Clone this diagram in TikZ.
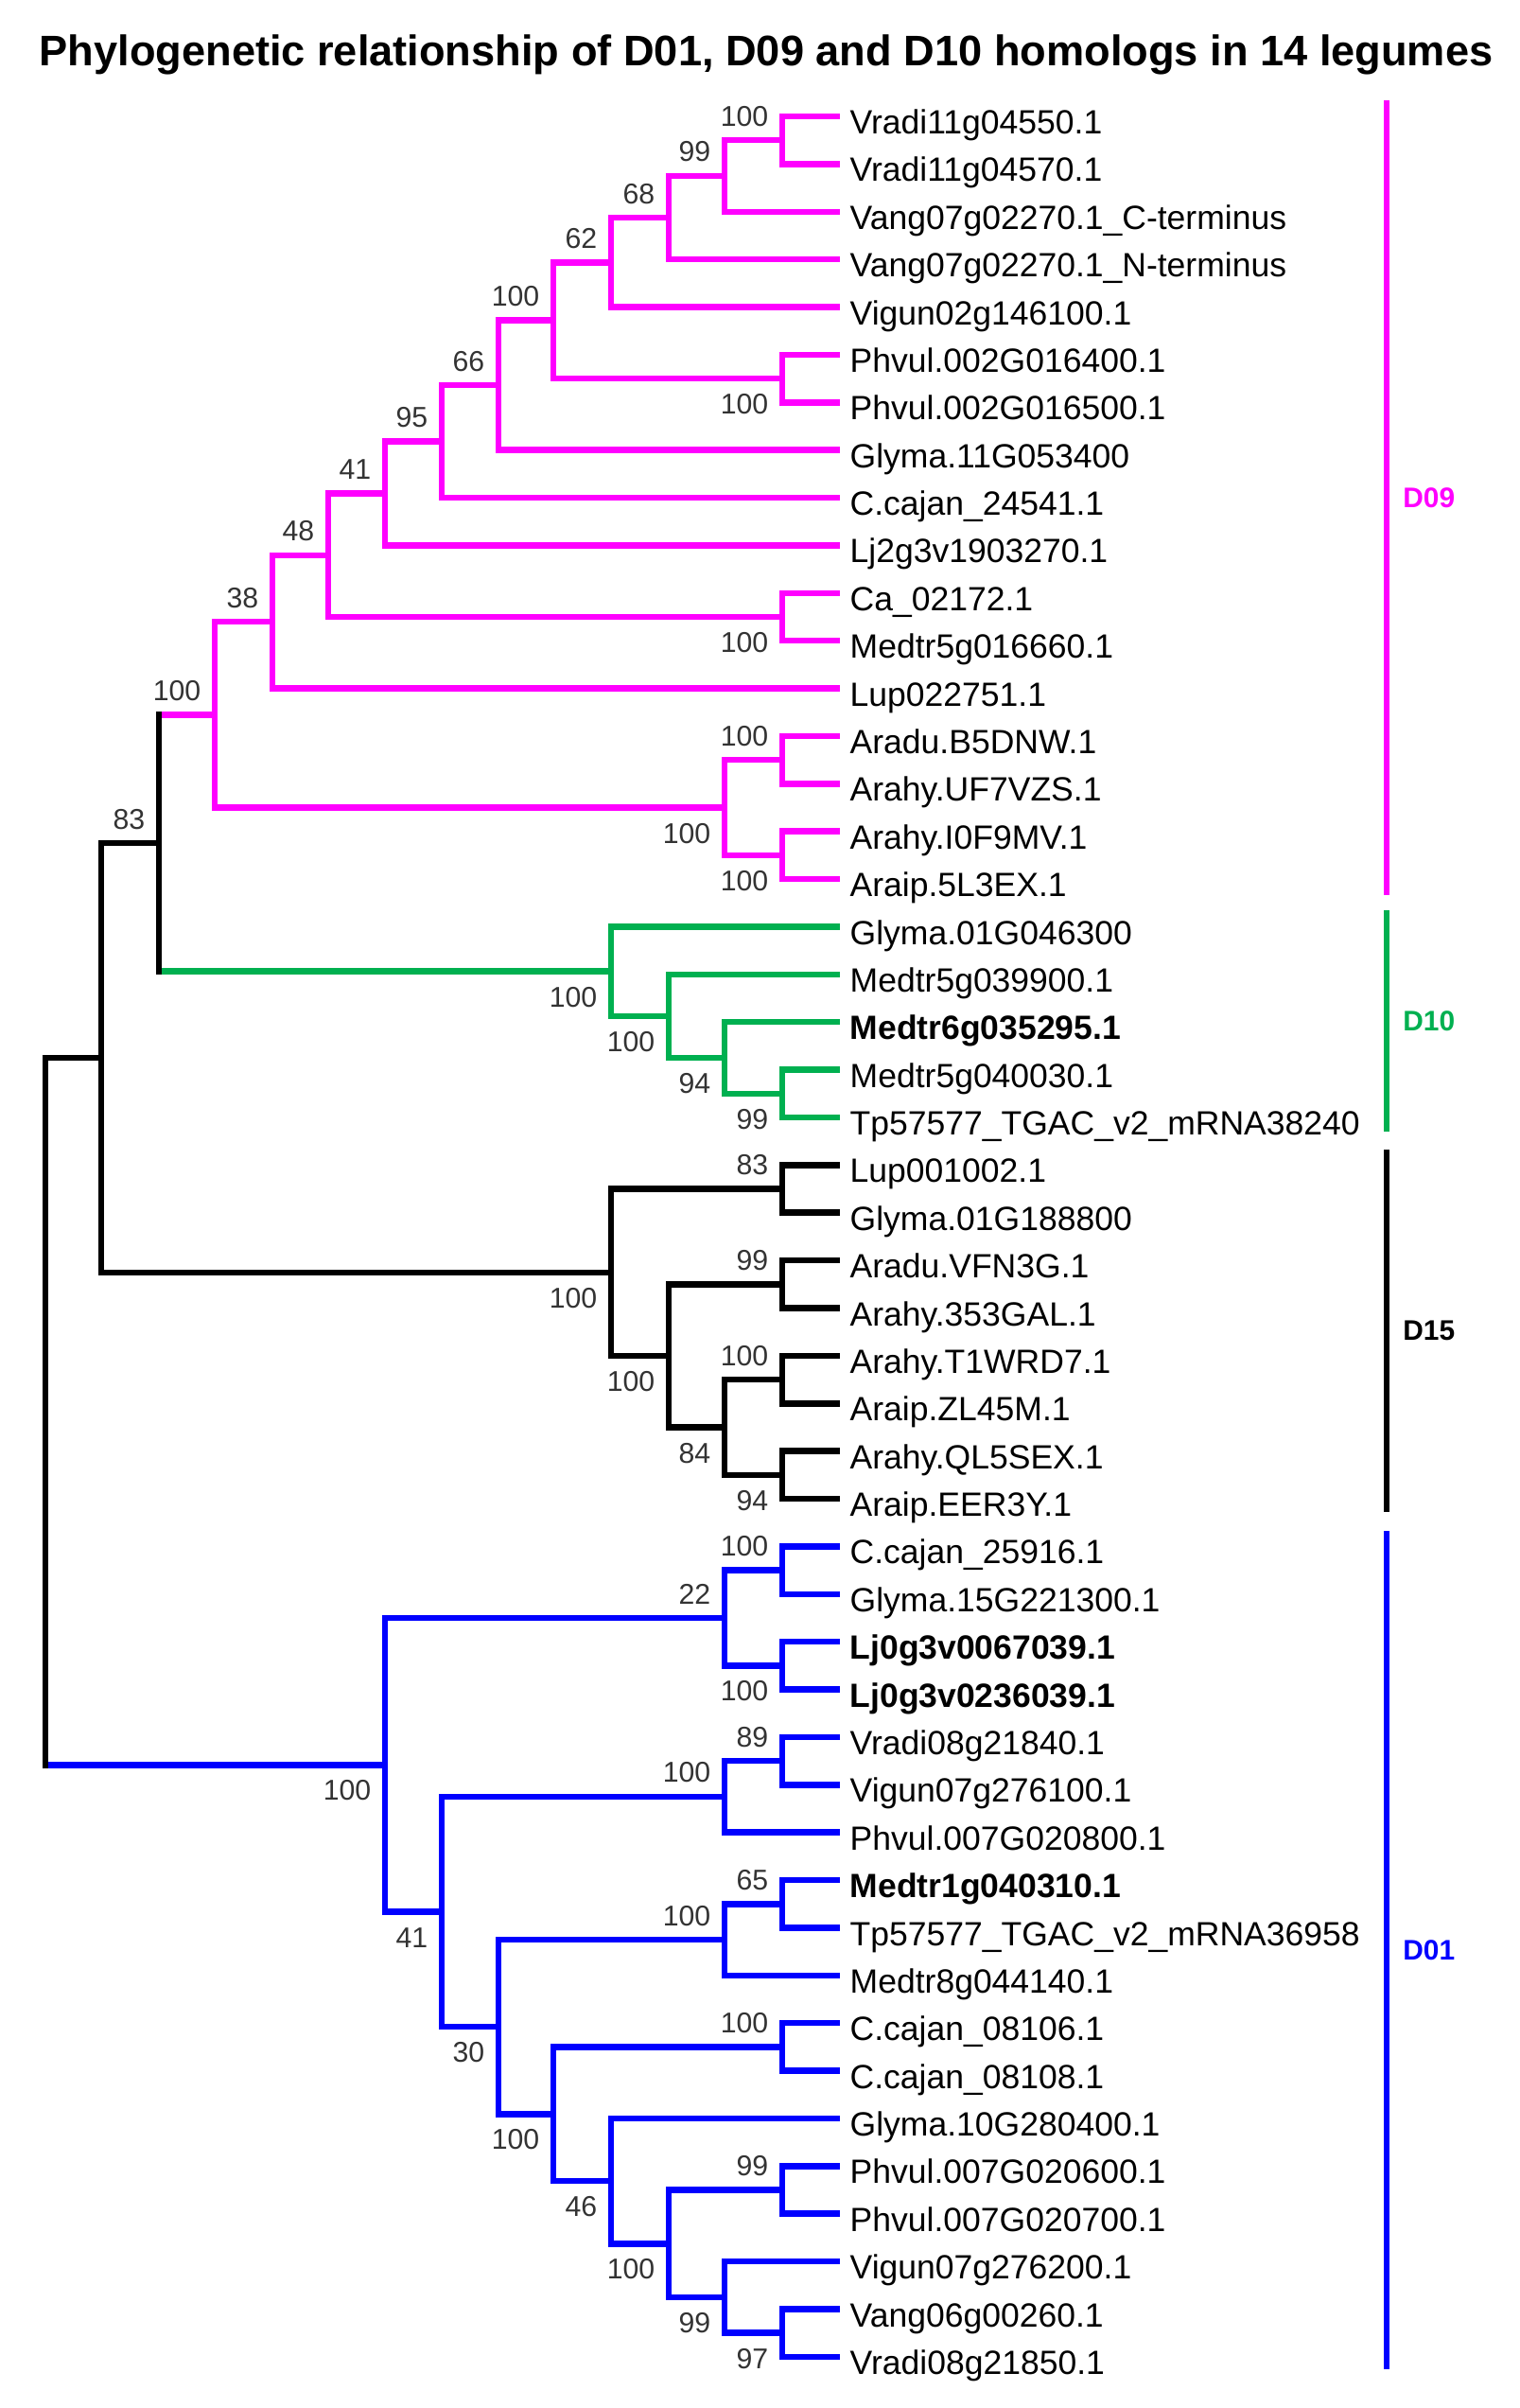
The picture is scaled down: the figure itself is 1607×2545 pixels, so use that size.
\documentclass[tikz,border=0pt]{standalone}
\usepackage{fontspec}
\setmainfont{Liberation Sans}
\usepackage{tikz}
\definecolor{PinkD09}{HTML}{FF00FF}
\definecolor{GreenD10}{HTML}{00B050}
\definecolor{BlueD01}{HTML}{0000FF}
\definecolor{DarkLabel}{HTML}{333333}
\usetikzlibrary{
	positioning,
	calc
}
\newcommand{\leaffont}{\fontsize{10.1}{12}\selectfont}
\newcommand{\bootfont}{\fontsize{8.6}{10}\selectfont}
\newcommand{\grpfont}{\fontsize{8.5}{10}\selectfont}
\newcommand{\headfont}{\fontsize{12.85}{15}\selectfont}

\begin{document}
\begin{tikzpicture}[
	x=0.01cm, y=-0.01cm,
	node distance=0.1cm,
	branch/.style={line width=0.065cm, line join=miter},
	d09/.style={branch, draw=PinkD09},
	d10/.style={branch, draw=GreenD10},
	d15/.style={branch, draw=black},
	d01/.style={branch, draw=BlueD01},
	leaf/.style={font=\leaffont, inner sep=0pt, text height=0.26cm, text depth=0.07cm, yshift=-0.09cm},
	boot/.style={font=\bootfont, text=DarkLabel, inner sep=0pt, anchor=base east, xshift=-0.14cm},
	bsup/.style={boot, yshift=0.15cm},
	bsdown/.style={boot, yshift=-0.375cm},
	bar/.style={line width=0.067cm},
	grp/.style={font=\grpfont\bfseries, inner sep=0pt, anchor=west, xshift=0.14cm},
	heading/.style={font=\headfont\bfseries, inner sep=0pt, anchor=base}
]
	\useasboundingbox (0,0) rectangle (1607,2545);

	\node[heading] (title) at (810,70) {Phylogenetic relationship of D01, D09 and D10 homologs in 14 legumes};

	% leaves
	\coordinate (t1) at (888,123.0);  \node[leaf, right=of t1] (l1) {Vradi11g04550.1};
	\coordinate (t2) at (888,173.4);  \node[leaf, right=of t2] (l2) {Vradi11g04570.1};
	\coordinate (t3) at (888,223.8);  \node[leaf, right=of t3] (l3) {Vang07g02270.1\_C-terminus};
	\coordinate (t4) at (888,274.1);  \node[leaf, right=of t4] (l4) {Vang07g02270.1\_N-terminus};
	\coordinate (t5) at (888,324.5);  \node[leaf, right=of t5] (l5) {Vigun02g146100.1};
	\coordinate (t6) at (888,374.9);  \node[leaf, right=of t6] (l6) {Phvul.002G016400.1};
	\coordinate (t7) at (888,425.3);  \node[leaf, right=of t7] (l7) {Phvul.002G016500.1};
	\coordinate (t8) at (888,475.7);  \node[leaf, right=of t8] (l8) {Glyma.11G053400};
	\coordinate (t9) at (888,526.0);  \node[leaf, right=of t9] (l9) {C.cajan\_24541.1};
	\coordinate (t10) at (888,576.4); \node[leaf, right=of t10] (l10) {Lj2g3v1903270.1};
	\coordinate (t11) at (888,626.8); \node[leaf, right=of t11] (l11) {Ca\_02172.1};
	\coordinate (t12) at (888,677.2); \node[leaf, right=of t12] (l12) {Medtr5g016660.1};
	\coordinate (t13) at (888,727.6); \node[leaf, right=of t13] (l13) {Lup022751.1};
	\coordinate (t14) at (888,777.9); \node[leaf, right=of t14] (l14) {Aradu.B5DNW.1};
	\coordinate (t15) at (888,828.3); \node[leaf, right=of t15] (l15) {Arahy.UF7VZS.1};
	\coordinate (t16) at (888,878.7); \node[leaf, right=of t16] (l16) {Arahy.I0F9MV.1};
	\coordinate (t17) at (888,929.1); \node[leaf, right=of t17] (l17) {Araip.5L3EX.1};
	\coordinate (t18) at (888,979.5); \node[leaf, right=of t18] (l18) {Glyma.01G046300};
	\coordinate (t19) at (888,1029.8); \node[leaf, right=of t19] (l19) {Medtr5g039900.1};
	\coordinate (t20) at (888,1080.2); \node[leaf, right=of t20] (l20) {\textbf{Medtr6g035295.1}};
	\coordinate (t21) at (888,1130.6); \node[leaf, right=of t21] (l21) {Medtr5g040030.1};
	\coordinate (t22) at (888,1181.0); \node[leaf, right=of t22] (l22) {Tp57577\_TGAC\_v2\_mRNA38240};
	\coordinate (t23) at (888,1231.4); \node[leaf, right=of t23] (l23) {Lup001002.1};
	\coordinate (t24) at (888,1281.7); \node[leaf, right=of t24] (l24) {Glyma.01G188800};
	\coordinate (t25) at (888,1332.1); \node[leaf, right=of t25] (l25) {Aradu.VFN3G.1};
	\coordinate (t26) at (888,1382.5); \node[leaf, right=of t26] (l26) {Arahy.353GAL.1};
	\coordinate (t27) at (888,1432.9); \node[leaf, right=of t27] (l27) {Arahy.T1WRD7.1};
	\coordinate (t28) at (888,1483.3); \node[leaf, right=of t28] (l28) {Araip.ZL45M.1};
	\coordinate (t29) at (888,1533.6); \node[leaf, right=of t29] (l29) {Arahy.QL5SEX.1};
	\coordinate (t30) at (888,1584.0); \node[leaf, right=of t30] (l30) {Araip.EER3Y.1};
	\coordinate (t31) at (888,1634.4); \node[leaf, right=of t31] (l31) {C.cajan\_25916.1};
	\coordinate (t32) at (888,1684.8); \node[leaf, right=of t32] (l32) {Glyma.15G221300.1};
	\coordinate (t33) at (888,1735.2); \node[leaf, right=of t33] (l33) {\textbf{Lj0g3v0067039.1}};
	\coordinate (t34) at (888,1785.6); \node[leaf, right=of t34] (l34) {\textbf{Lj0g3v0236039.1}};
	\coordinate (t35) at (888,1835.9); \node[leaf, right=of t35] (l35) {Vradi08g21840.1};
	\coordinate (t36) at (888,1886.3); \node[leaf, right=of t36] (l36) {Vigun07g276100.1};
	\coordinate (t37) at (888,1936.7); \node[leaf, right=of t37] (l37) {Phvul.007G020800.1};
	\coordinate (t38) at (888,1987.1); \node[leaf, right=of t38] (l38) {\textbf{Medtr1g040310.1}};
	\coordinate (t39) at (888,2037.5); \node[leaf, right=of t39] (l39) {Tp57577\_TGAC\_v2\_mRNA36958};
	\coordinate (t40) at (888,2087.8); \node[leaf, right=of t40] (l40) {Medtr8g044140.1};
	\coordinate (t41) at (888,2138.2); \node[leaf, right=of t41] (l41) {C.cajan\_08106.1};
	\coordinate (t42) at (888,2188.6); \node[leaf, right=of t42] (l42) {C.cajan\_08108.1};
	\coordinate (t43) at (888,2239.0); \node[leaf, right=of t43] (l43) {Glyma.10G280400.1};
	\coordinate (t44) at (888,2289.4); \node[leaf, right=of t44] (l44) {Phvul.007G020600.1};
	\coordinate (t45) at (888,2339.7); \node[leaf, right=of t45] (l45) {Phvul.007G020700.1};
	\coordinate (t46) at (888,2390.1); \node[leaf, right=of t46] (l46) {Vigun07g276200.1};
	\coordinate (t47) at (888,2440.5); \node[leaf, right=of t47] (l47) {Vang06g00260.1};
	\coordinate (t48) at (888,2490.9); \node[leaf, right=of t48] (l48) {Vradi08g21850.1};

	% inner nodes, D09
	\coordinate (a12) at (827,148.2);
	\coordinate (a13) at (766,186.0);
	\coordinate (a14) at (707,230.1);
	\coordinate (a15) at (646,277.3);
	\coordinate (a67) at (827,400.1);
	\coordinate (a17) at (585,338.7);
	\coordinate (a18) at (527,407.2);
	\coordinate (a19) at (467,466.6);
	\coordinate (a110) at (407,521.5);
	\coordinate (a1112) at (827,652.0);
	\coordinate (a112) at (347,586.8);
	\coordinate (a113) at (288,657.2);
	\coordinate (a1415) at (827,803.1);
	\coordinate (a1617) at (827,903.9);
	\coordinate (a1417) at (766,853.5);
	\coordinate (nd09) at (227,755.4);
	% D10
	\coordinate (b2122) at (827,1155.8);
	\coordinate (b2022) at (766,1118.0);
	\coordinate (b1922) at (707,1073.9);
	\coordinate (nd10) at (646,1026.7);
	\coordinate (nd0910) at (168,891.1);
	% D15
	\coordinate (c2324) at (827,1256.6);
	\coordinate (c2526) at (827,1357.3);
	\coordinate (c2728) at (827,1458.1);
	\coordinate (c2930) at (827,1558.8);
	\coordinate (c2730) at (766,1508.5);
	\coordinate (c2530) at (707,1432.9);
	\coordinate (nd15) at (646,1344.8);
	\coordinate (n107) at (107,1118.0);
	% D01
	\coordinate (e3132) at (827,1659.6);
	\coordinate (e3334) at (827,1760.4);
	\coordinate (e3134) at (766,1710.0);
	\coordinate (e3536) at (827,1861.1);
	\coordinate (e3537) at (766,1898.9);
	\coordinate (e3839) at (827,2012.3);
	\coordinate (e3840) at (766,2050.1);
	\coordinate (e4142) at (827,2163.4);
	\coordinate (e4445) at (827,2314.6);
	\coordinate (e4748) at (827,2465.7);
	\coordinate (e4648) at (766,2427.9);
	\coordinate (e4448) at (707,2371.3);
	\coordinate (e4348) at (646,2305.2);
	\coordinate (e4148) at (585,2234.3);
	\coordinate (e3848) at (527,2142.2);
	\coordinate (e3548) at (467,2020.6);
	\coordinate (nd01) at (407,1865.3);
	\coordinate (root) at (48,1491.7);

	% branches
	\draw[d09] (a12) |- (t1) (a12) |- (t2)
		(a13) |- (a12) (a13) |- (t3)
		(a14) |- (a13) (a14) |- (t4)
		(a15) |- (a14) (a15) |- (t5)
		(a67) |- (t6) (a67) |- (t7)
		(a17) |- (a15) (a17) |- (a67)
		(a18) |- (a17) (a18) |- (t8)
		(a19) |- (a18) (a19) |- (t9)
		(a110) |- (a19) (a110) |- (t10)
		(a1112) |- (t11) (a1112) |- (t12)
		(a112) |- (a110) (a112) |- (a1112)
		(a113) |- (a112) (a113) |- (t13)
		(a1415) |- (t14) (a1415) |- (t15)
		(a1617) |- (t16) (a1617) |- (t17)
		(a1417) |- (a1415) (a1417) |- (a1617)
		(nd09) |- (a113) (nd09) |- (a1417);
	\draw[d10] (b2122) |- (t21) (b2122) |- (t22)
		(b2022) |- (t20) (b2022) |- (b2122)
		(b1922) |- (t19) (b1922) |- (b2022)
		(nd10) |- (t18) (nd10) |- (b1922);
	\draw[d15] (c2324) |- (t23) (c2324) |- (t24)
		(c2526) |- (t25) (c2526) |- (t26)
		(c2728) |- (t27) (c2728) |- (t28)
		(c2930) |- (t29) (c2930) |- (t30)
		(c2730) |- (c2728) (c2730) |- (c2930)
		(c2530) |- (c2526) (c2530) |- (c2730)
		(nd15) |- (c2324) (nd15) |- (c2530)
		(n107) |- (nd0910) (n107) |- (nd15);
	\draw[d01] (e3132) |- (t31) (e3132) |- (t32)
		(e3334) |- (t33) (e3334) |- (t34)
		(e3134) |- (e3132) (e3134) |- (e3334)
		(e3536) |- (t35) (e3536) |- (t36)
		(e3537) |- (e3536) (e3537) |- (t37)
		(e3839) |- (t38) (e3839) |- (t39)
		(e3840) |- (e3839) (e3840) |- (t40)
		(e4142) |- (t41) (e4142) |- (t42)
		(e4445) |- (t44) (e4445) |- (t45)
		(e4748) |- (t47) (e4748) |- (t48)
		(e4648) |- (t46) (e4648) |- (e4748)
		(e4448) |- (e4445) (e4448) |- (e4648)
		(e4348) |- (t43) (e4348) |- (e4448)
		(e4148) |- (e4142) (e4148) |- (e4348)
		(e3848) |- (e3840) (e3848) |- (e4148)
		(e3548) |- (e3537) (e3548) |- (e3848)
		(nd01) |- (e3134) (nd01) |- (e3548);
	\draw[d09] (nd0910 |- nd09) -- (nd09);
	\draw[d10] (nd0910 |- nd10) -- (nd10);
	\draw[d15, line cap=rect] (nd0910 |- nd09) -- (nd0910 |- nd10);
	\draw[d01] (root |- nd01) -- (nd01);
	\draw[d15] (root |- n107) -- (n107);
	\draw[d15, line cap=rect] (root |- n107) -- (root |- nd01);

	% bootstrap values
	\node[bsup] (s12) at (a12) {100};
	\node[bsup] (s13) at (a13) {99};
	\node[bsup] (s14) at (a14) {68};
	\node[bsup] (s15) at (a15) {62};
	\node[bsdown] (s67) at (a67) {100};
	\node[bsup] (s17) at (a17) {100};
	\node[bsup] (s18) at (a18) {66};
	\node[bsup] (s19) at (a19) {95};
	\node[bsup] (s110) at (a110) {41};
	\node[bsdown] (s1112) at (a1112) {100};
	\node[bsup] (s112) at (a112) {48};
	\node[bsup] (s113) at (a113) {38};
	\node[bsup] (s1415) at (a1415) {100};
	\node[bsdown] (s1617) at (a1617) {100};
	\node[bsdown] (s1417) at (a1417) {100};
	\node[bsup] (sd09) at (nd09) {100};
	\node[bsdown] (s2122) at (b2122) {99};
	\node[bsdown] (s2022) at (b2022) {94};
	\node[bsdown] (s1922) at (b1922) {100};
	\node[bsdown] (sd10) at (nd10) {100};
	\node[bsup] (sd0910) at (nd0910) {83};
	\node[bsup] (s2324) at (c2324) {83};
	\node[bsup] (s2526) at (c2526) {99};
	\node[bsup] (s2728) at (c2728) {100};
	\node[bsdown] (s2930) at (c2930) {94};
	\node[bsdown] (s2730) at (c2730) {84};
	\node[bsdown] (s2530) at (c2530) {100};
	\node[bsdown] (sd15) at (nd15) {100};
	\node[bsup] (s3132) at (e3132) {100};
	\node[bsdown] (s3334) at (e3334) {100};
	\node[bsup] (s3134) at (e3134) {22};
	\node[bsup] (s3536) at (e3536) {89};
	\node[bsup] (s3537) at (e3537) {100};
	\node[bsup] (s3839) at (e3839) {65};
	\node[bsup] (s3840) at (e3840) {100};
	\node[bsup] (s4142) at (e4142) {100};
	\node[bsup] (s4445) at (e4445) {99};
	\node[bsdown] (s4748) at (e4748) {97};
	\node[bsdown] (s4648) at (e4648) {99};
	\node[bsdown] (s4448) at (e4448) {100};
	\node[bsdown] (s4348) at (e4348) {46};
	\node[bsdown] (s4148) at (e4148) {100};
	\node[bsdown] (s3848) at (e3848) {30};
	\node[bsdown] (s3548) at (e3548) {41};
	\node[bsdown] (sd01) at (nd01) {100};

	% groups
	\coordinate (g09a) at (1466,106);  \coordinate (g09b) at (1466,946);
	\coordinate (g10a) at (1466,962);  \coordinate (g10b) at (1466,1196);
	\coordinate (g15a) at (1466,1215); \coordinate (g15b) at (1466,1598);
	\coordinate (g01a) at (1466,1618); \coordinate (g01b) at (1466,2504);
	\draw[bar, PinkD09] (g09a) -- (g09b) node[grp, midway] (g09) {D09};
	\draw[bar, GreenD10] (g10a) -- (g10b) node[grp, midway] (g10) {D10};
	\draw[bar, black] (g15a) -- (g15b) node[grp, midway] (g15) {D15};
	\draw[bar, BlueD01] (g01a) -- (g01b) node[grp, midway] (g01) {D01};

\end{tikzpicture}
\end{document}
